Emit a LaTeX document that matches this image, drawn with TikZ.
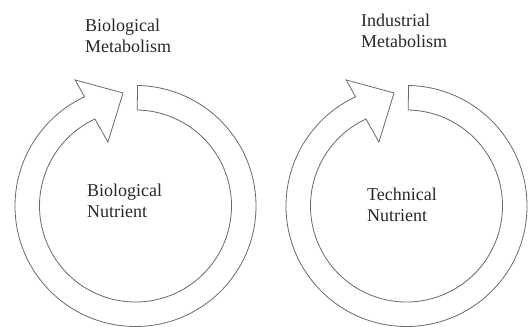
\documentclass[tikz,border=0pt]{standalone}
\usepackage{fontspec}
\setmainfont{Liberation Serif}
\usepackage{xcolor}
\definecolor{ringgray}{RGB}{105, 105, 105}
\definecolor{textgray}{RGB}{40, 40, 40}

\tikzset{
  ringarrow/.style={draw=ringgray, line width=0.8pt, line join=miter},
  cyclename/.style={align=left, anchor=base west, inner sep=0pt, text=textgray,
    font=\fontsize{18}{21.5}\selectfont}
}

\begin{document}
\begin{tikzpicture}[x=1pt, y=1pt]
  \useasboundingbox (0,0) rectangle (529,326);
  % Biological cycle
  \begin{scope}[shift={(135.5,120)}]
    \draw[ringarrow] (89:120.5) arc[start angle=89, end angle=-245, radius=120.5]
      -- (115.6:139.8) -- (96.3:113.7) -- (113.3:69.7) -- (-245:96)
      arc[start angle=-245, end angle=89, radius=96] -- cycle;
  \end{scope}
  % Technical cycle
  \begin{scope}[shift={(406.5,120)}]
    \draw[ringarrow] (89:120.5) arc[start angle=89, end angle=-245, radius=120.5]
      -- (115.6:139.8) -- (96.3:113.7) -- (113.3:69.7) -- (-245:96)
      arc[start angle=-245, end angle=89, radius=96] -- cycle;
  \end{scope}
  % Labels
  \node[cyclename] (biometa) at (85,273) {Biological\\Metabolism};
  \node[cyclename] (bionut) at (87,108) {Biological\\Nutrient};
  \node[cyclename] (indmeta) at (361,278) {Industrial\\Metabolism};
  \node[cyclename] (technut) at (367,104) {Technical\\Nutrient};
\end{tikzpicture}
\end{document}
